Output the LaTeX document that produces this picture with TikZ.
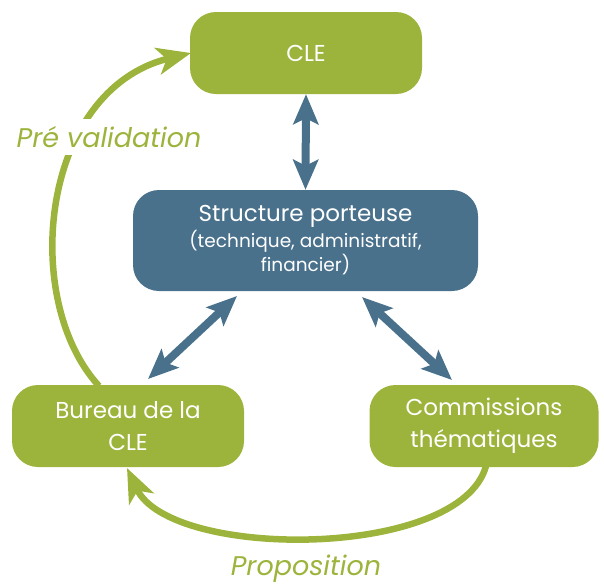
\documentclass[tikz,border=0pt]{standalone}
\usepackage{fontspec}
\setmainfont{Poppins}
\usetikzlibrary{arrows.meta}
\definecolor{lgreen}{HTML}{9CB43C}
\definecolor{sblue}{HTML}{4A718C}
\tikzset{
  gbox/.style={fill=lgreen, rounded corners=26pt, draw=none, text=white, align=center, font=\fontsize{23}{32}\selectfont},
  bbox/.style={fill=sblue, rounded corners=26pt, draw=none, text=white, align=center},
  barrow/.style={draw=sblue, line width=8pt, {Stealth[length=30pt,width=25pt,inset=6pt]}-{Stealth[length=30pt,width=25pt,inset=6pt]}},
  garrow/.style={draw=lgreen, line width=6.5pt, -{Stealth[length=34pt,width=27pt,inset=9pt]}},
  glabel/.style={text=lgreen, font=\fontsize{27}{30}\selectfont\itshape, inner sep=2pt}
}
\begin{document}
\begin{tikzpicture}[x=1pt,y=-1pt]
\useasboundingbox (0,0) rectangle (604,587);
\node[gbox, minimum width=232pt, minimum height=82pt] (cle) at (306,53) {CLE};
\node[bbox, minimum width=345pt, minimum height=101pt] (sp) at (305.5,240.5)
  {{\fontsize{23}{29}\selectfont Structure porteuse}\\[1pt]
   {\fontsize{18.5}{24}\selectfont (technique, administratif,}\\[1.5pt]
   {\fontsize{18.5}{24}\selectfont financier)}};
\node[gbox, minimum width=232pt, minimum height=82pt] (bur) at (128,426) {Bureau de la\\CLE};
\node[gbox, minimum width=229pt, minimum height=82pt] (com) at (484,426) {Commissions\\th\'ematiques};
% blue connectors
\coordinate (lt) at (237,296);
\coordinate (lb) at (148,379);
\coordinate (rt) at (362,297);
\coordinate (rb) at (452,380);
\draw[barrow] (cle.south) -- (sp.north);
\draw[barrow] (lt) -- (lb);
\draw[barrow] (rt) -- (rb);
% green cycle
\coordinate (pvs) at (99,386);
\coordinate (pve) at (191,53);
\draw[garrow] (pvs) .. controls (20,300) and (40,90) .. (pve);
\node[glabel, fill=white, inner xsep=0pt, inner ysep=7pt] (pv) at (109,137) {Pr\'e validation};
\coordinate (prs) at (486,466);
\coordinate (pre) at (127,468);
\draw[garrow] (prs) .. controls (460,560) and (170,560) .. (pre);
\node[glabel] (pr) at (306,569) {Proposition};
\end{tikzpicture}
\end{document}
